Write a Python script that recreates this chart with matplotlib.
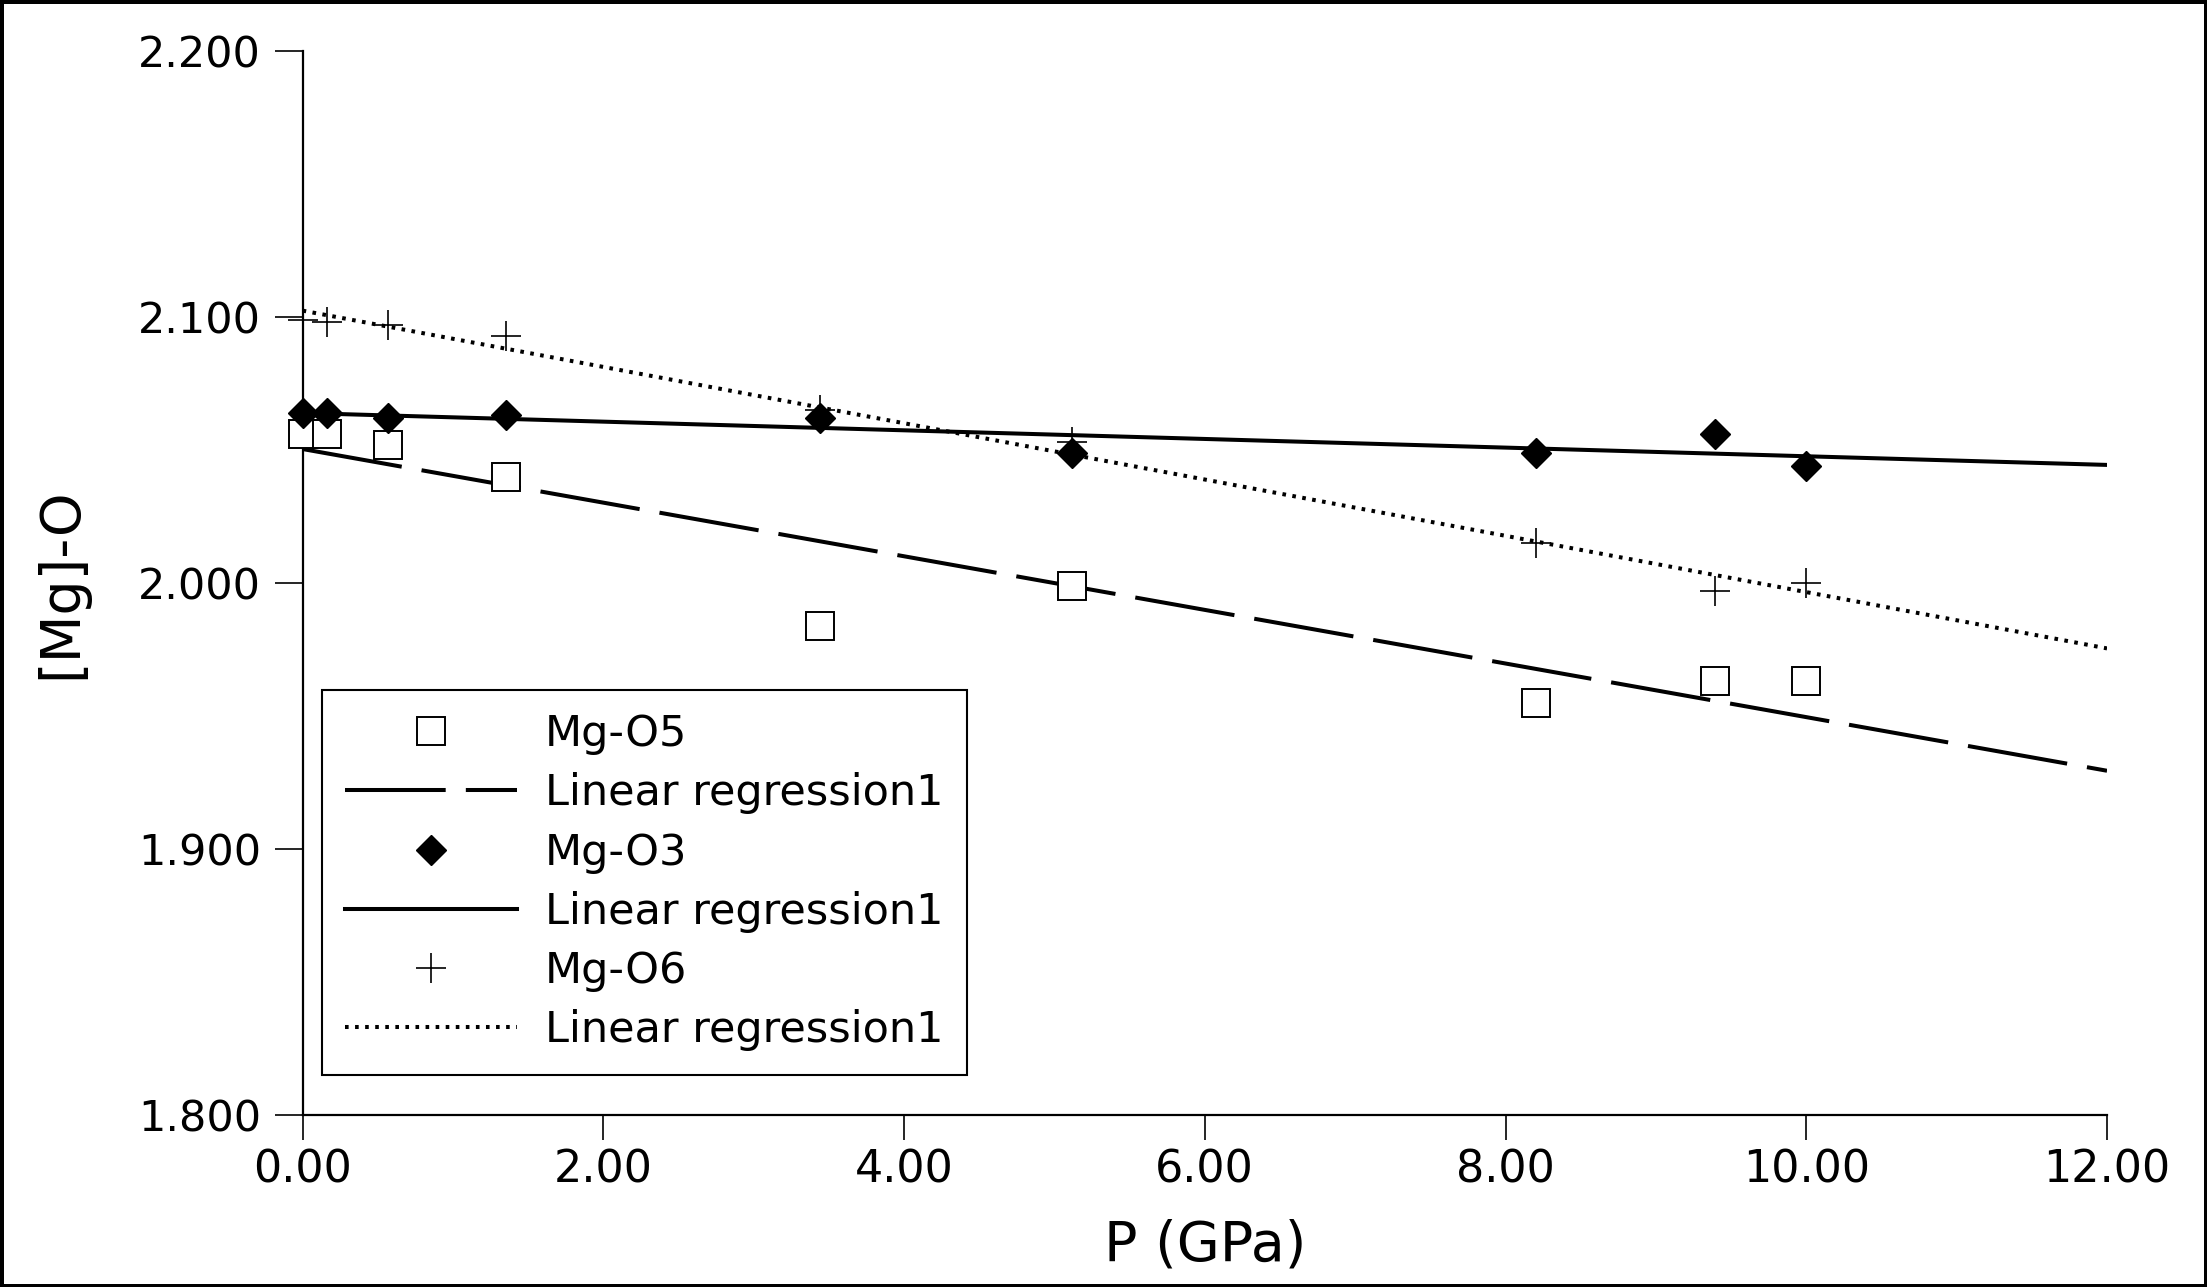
import numpy as np
import matplotlib
matplotlib.use("Agg")
import matplotlib.pyplot as plt
from matplotlib.ticker import FormatStrFormatter

# pressure (GPa) and Mg-O bond lengths
pressure = [0.00, 0.16, 0.57, 1.35, 3.44, 5.12, 8.20, 9.39, 10.00]
mg_o5 = [2.056, 2.056, 2.052, 2.040, 1.984, 1.999, 1.955, 1.963, 1.963]
mg_o3 = [2.064, 2.064, 2.062, 2.063, 2.062, 2.049, 2.049, 2.056, 2.044]
mg_o6 = [2.099, 2.098, 2.097, 2.093, 2.065, 2.053, 2.015, 1.997, 2.000]

x_ticks = [0, 2, 4, 6, 8, 10, 12]
y_ticks = [1.8, 1.9, 2.0, 2.1, 2.2]

plt.rcParams['font.family'] = ['DejaVu Sans']

fig = plt.figure(figsize=(22.07, 12.87), dpi=100)
fig.patch.set_edgecolor('black')
fig.patch.set_linewidth(5)
ax = fig.add_axes([0.1371, 0.1336, 0.8176, 0.8268])

x = np.array(pressure)
x_fit = np.array([x_ticks[0], x_ticks[-1]], dtype=float)

def fit_line(y):
    """least squares line through the points, over the whole x range"""
    k, b = np.polyfit(x, np.array(y), 1)
    return k * x_fit + b

lw = 2.9
ax.plot(x, mg_o5, linestyle='none', marker='s', ms=20, mfc='white',
        mec='black', mew=1.4, clip_on=False, zorder=3, label='Mg-O5')
ax.plot(x_fit, fit_line(mg_o5), color='black', lw=lw,
        linestyle=(0, (25, 5)), label='Linear regression1')
ax.plot(x, mg_o3, linestyle='none', marker='D', ms=15, mfc='black',
        mec='black', mew=1, clip_on=False, zorder=4, label='Mg-O3')
ax.plot(x_fit, fit_line(mg_o3), color='black', lw=lw, linestyle='-',
        label='Linear regression1')
ax.plot(x, mg_o6, linestyle='none', marker='+', ms=21, color='black',
        mew=1.2, clip_on=False, zorder=4, label='Mg-O6')
ax.plot(x_fit, fit_line(mg_o6), color='black', lw=lw,
        linestyle=(0, (0.9, 1.6)), label='Linear regression1')

ax.set_xlim(x_ticks[0], x_ticks[-1])
ax.set_ylim(y_ticks[0], y_ticks[-1])
ax.set_xticks(x_ticks)
ax.set_yticks(y_ticks)
ax.xaxis.set_major_formatter(FormatStrFormatter('%.2f'))
ax.yaxis.set_major_formatter(FormatStrFormatter('%.3f'))

for side in ['top', 'right']:
    ax.spines[side].set_visible(False)
for side in ['left', 'bottom']:
    ax.spines[side].set_linewidth(1.6)
ax.tick_params(axis='y', direction='out', length=20, width=1.2,
               labelsize=31, pad=10)
ax.tick_params(axis='x', direction='out', length=18, width=1.2,
               labelsize=32, pad=6)

ax.set_xlabel('P (GPa)', fontsize=40)
ax.set_ylabel('[Mg]-O', fontsize=40)
ax.xaxis.set_label_coords(0.5, -0.097)
ax.yaxis.set_label_coords(-0.119, 0.5)

leg = ax.legend(loc='lower left', bbox_to_anchor=(0.0105, 0.0376),
                borderaxespad=0, fontsize=31, fancybox=False, framealpha=1,
                edgecolor='black', handlelength=4.0, handletextpad=0.63,
                labelspacing=0.4, borderpad=0.55)
leg.get_frame().set_linewidth(1.5)

fig.savefig('out.png', dpi=100, facecolor='white',
            edgecolor=fig.get_edgecolor())
